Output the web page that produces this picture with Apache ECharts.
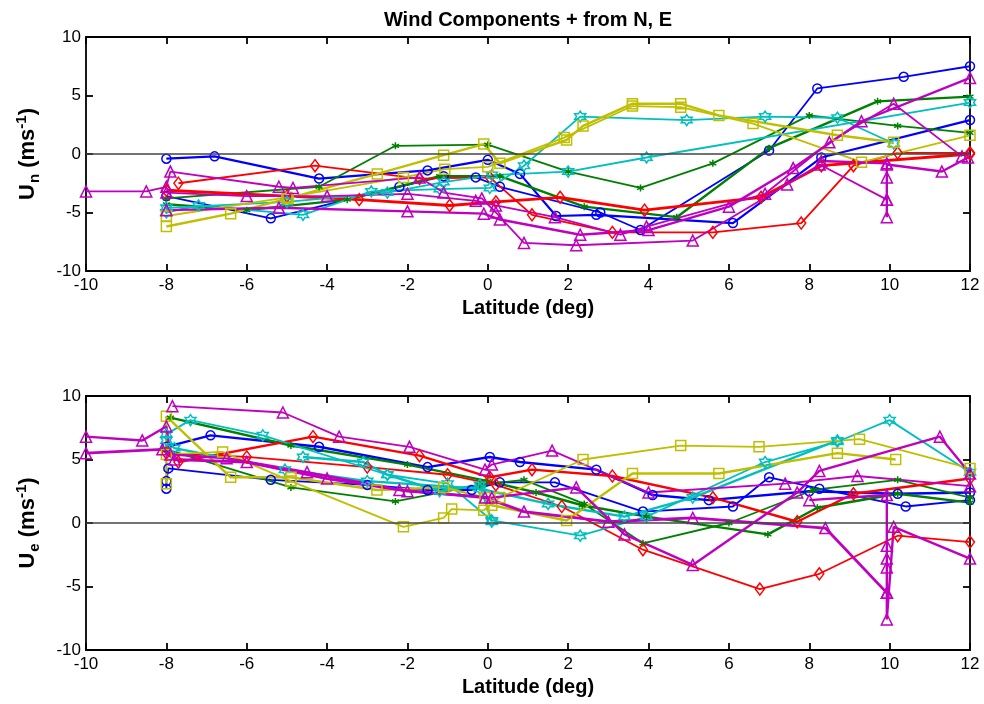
<!DOCTYPE html>
<html><head><meta charset="utf-8">
<script src="https://cdn.jsdelivr.net/npm/echarts@6/dist/echarts.min.js"></script>
<style>html,body{margin:0;padding:0;background:#fff}#c{width:984px;height:704px}</style>
</head><body><div id="c"></div>
<script>
// ---- Data: [latitude, value] pairs ----
const xTicks = [-10,-8,-6,-4,-2,0,2,4,6,8,10,12];
const yTicks = [-10,-5,0,5,10];

// Top panel: U_n
const unBlue1 = [[-8,-0.4],[-6.8,-0.2],[-4.2,-2.1],[-1.5,-1.4],[0,-0.5],[0.8,-1.7],[1.7,-5.3],[2.7,-5.2],[6.1,-5.9],[8.3,-0.3],[12,2.9]];
const unBlue2 = [[-8,-3.6],[-5.4,-5.5],[-2.2,-2.8],[-1.1,-1.9],[-0.3,-2.0],[0.3,-2.8],[2.8,-5.0],[3.8,-6.5],[7.0,0.3],[8.2,5.6],[10.35,6.6],[12,7.5]];
const unGreen1 = [[-8,-3.8],[-4.2,-2.8],[-2.3,0.7],[0,0.8],[2.0,-1.5],[3.8,-2.9],[5.6,-0.8],[8.0,3.3],[10.2,2.4],[12,1.8]];
const unGreen2 = [[-8,-4.3],[-6,-4.8],[-3.5,-3.9],[-1.2,-1.9],[0.3,-1.9],[2.4,-4.5],[4.7,-5.4],[7.0,0.5],[9.7,4.5],[12,4.9]];
const unRed1 = [[-7.7,-2.5],[-4.3,-1.0],[-1.7,-2.1],[0.05,-2.0],[1.1,-5.2],[3.1,-6.7],[5.6,-6.7],[7.8,-5.9],[9.1,-1.0],[10.2,0.1],[12,0.1]];
const unRed2 = [[-8,-3.1],[-5,-3.6],[-3.2,-3.9],[-0.95,-4.4],[0.2,-4.1],[1.8,-3.7],[3.9,-4.8],[6.8,-3.7],[8.3,-1.0],[12,0.0]];
const unCyan1 = [[-8,-5.0],[-7.2,-4.4],[-4.6,-5.2],[-2.9,-3.2],[-1.2,-3.0],[0.05,-2.9],[0.9,-1.0],[2.3,3.2],[4.95,2.9],[6.9,3.2],[8.7,3.1],[10.1,0.9]];
const unCyan2 = [[-8,-4.6],[-5.0,-4.1],[-2.5,-3.3],[-1.1,-2.4],[0.1,-1.8],[2.0,-1.5],[3.95,-0.3],[12,4.4]];
const unYellow1 = [[-8,-6.2],[-6.4,-5.1],[-4.97,-3.8],[-2.75,-1.7],[-1.1,-0.1],[-0.1,0.85],[0.3,-0.8],[1.96,1.2],[2.37,2.4],[3.6,4.3],[4.8,4.3],[5.75,3.3],[8.7,1.6],[10.1,1.0]];
const unYellow2 = [[-8,-5.3],[-5.0,-3.7],[-2.1,-2.0],[-1.07,-1.3],[0,-1.1],[1.9,1.4],[3.6,4.1],[4.8,4.0],[6.6,2.6],[9.3,-0.7],[12,1.6]];
const unMag1 = [[-10,-3.2],[-8.5,-3.2],[-8,-2.8],[-7.9,-1.5],[-5.2,-2.8],[-4.85,-2.9],[-1.7,-2.0],[-1.1,-3.3],[-0.15,-3.8],[0.2,-5.0],[0.9,-7.6],[2.2,-7.8],[5.1,-7.4],[7.45,-2.6],[8.26,-0.9],[9.93,-3.9]];
const unMag2 = [[-8,-3.3],[-6,-3.6],[-4,-3.6],[-2,-3.4],[-0.3,-4.0],[0.2,-4.4],[1.67,-5.4],[3.3,-6.9],[3.95,-6.2],[6.9,-3.4],[8.5,1.0],[10.1,4.3],[11.8,-0.2]];
const unMag3 = [[-8,-4.8],[-5.2,-4.6],[-2.0,-4.9],[-0.1,-5.1],[0.3,-5.6],[2.3,-6.9],[4.0,-6.5],[6.0,-4.5],[7.6,-1.2],[9.3,2.8],[12,6.5]];
const unMag4 = [[8.3,-0.6],[9.93,-0.8],[9.93,-2.0],[9.93,-3.9],[9.93,-5.4],[9.93,-0.9],[11.3,-1.5],[11.95,-0.3]];

// Bottom panel: U_e
const ueBlue1 = [[-8,2.7],[-8,3.3],[-7.95,4.3],[-5.4,3.4],[-3.0,3.0],[-1.5,2.6],[-0.4,2.6],[0.3,3.2],[1.67,3.2],[3.86,0.9],[6.1,1.3],[7.0,3.6],[8.25,2.7],[10.4,1.3],[12,1.8]];
const ueBlue2 = [[-8,6.0],[-6.9,6.9],[-4.2,6.0],[-1.5,4.4],[0.05,5.2],[0.8,4.8],[2.7,4.2],[4.1,2.2],[5.5,1.8],[8.0,2.5],[10.2,2.3],[12,2.4]];
const ueGreen1 = [[-7.9,8.3],[-4.9,6.1],[-2.0,4.6],[0.0,3.3],[1.2,2.4],[2.35,1.4],[3.95,0.5],[6.97,-0.9],[8.2,1.2],[10.2,2.3],[12,1.6]];
const ueGreen2 = [[-8,5.8],[-4.9,2.8],[-2.3,1.7],[-0.2,3.0],[0.9,3.4],[2.4,1.5],[3.86,-1.6],[6.0,0.0],[8.1,2.6],[10.2,3.4],[12,2.0]];
const ueRed1 = [[-7.7,4.8],[-4.35,6.8],[-1.7,5.3],[0.05,3.6],[1.1,4.2],[3.1,3.7],[5.6,2.0],[7.7,0.1],[9.1,2.3],[12,3.5]];
const ueRed2 = [[-8,5.5],[-6,5.2],[-3,4.4],[-1,3.8],[0.2,3.0],[1.84,1.3],[3.86,-2.1],[6.77,-5.2],[8.25,-4.0],[10.2,-1.0],[12,-1.5]];
const ueCyan1 = [[-8,7.0],[-7.4,8.1],[-5.6,6.9],[-2.5,3.8],[-1.0,3.1],[0.1,0.2],[2.3,-1.0],[3.95,0.5],[6.9,4.8],[8.7,6.4],[10.0,8.1],[12,4.0]];
const ueCyan2 = [[-8,6.5],[-7.8,5.9],[-5.05,4.2],[-3,3.3],[-0.2,2.7],[1.5,1.5],[3.4,0.5],[5.1,2.0],[8.7,6.5]];
const ueCyan3 = [[-4.6,5.2],[-3.1,4.8],[-2.5,3.8],[-1.2,2.5],[-0.2,3.0],[0.1,0.1]];
const ueYellow1 = [[-8,3.1],[-8,8.4],[-6.4,3.6],[-4.9,3.6],[-2.76,2.6],[-1.1,2.8],[-0.07,2.0],[0.1,1.4],[1.96,0.2],[3.6,3.9],[5.75,3.9],[8.7,5.5],[10.15,5.0]];
const ueYellow2 = [[-8,5.4],[-6.6,5.6],[-4.9,3.3],[-2.1,-0.3],[-1.1,0.4],[-0.9,1.1],[-0.1,1.0],[0.3,2.0],[2.37,5.0],[4.8,6.1],[6.75,6.0],[9.25,6.6],[12,4.3]];
const ueMag1 = [[-7.85,9.2],[-5.1,8.7],[-3.7,6.8],[-1.95,6.0],[-0.07,4.2],[0.1,4.6],[1.6,5.7],[4.0,2.4],[7.4,3.1],[9.2,3.7],[12,2.9]];
const ueMag2 = [[-10,6.8],[-8.6,6.5],[-8,7.6],[-7.9,5.4],[-6.5,5.1],[-4.5,4.0],[-2.0,2.5],[0.1,2.0],[2.2,2.8],[3.4,-0.9],[5.1,-3.3],[7.7,2.4],[8.25,4.1],[11.25,6.8],[12,3.9]];
const ueMag3 = [[-10,5.5],[-8.1,5.8],[-7.8,5.0],[-6,4.8],[-4,3.5],[-2.2,2.6],[-0.07,2.0],[0.9,0.9],[3.0,0.1],[5.1,0.4],[8.4,-0.4],[9.93,-5.5]];
const ueMag4 = [[8.0,1.8],[9.93,2.2],[9.93,-1.8],[9.93,-2.8],[9.93,-3.5],[9.93,-5.5],[9.93,-7.6],[10.1,-0.3],[12,-2.8]];

// ---- Styles ----
const C = {blue:'#0000ff', green:'#008000', red:'#ff0000', cyan:'#00bfbf', yellow:'#bfbf00', mag:'#bf00bf'};
function hexagram(){
  let p=[];
  for(let i=0;i<12;i++){const a=-Math.PI/2+i*Math.PI/6;const r=(i%2===0)?10:5.8;p.push((r*Math.cos(a)).toFixed(2)+','+(r*Math.sin(a)).toFixed(2));}
  return 'path://M'+p.join('L')+'Z';
}
const MK = {
  blue:{symbol:'circle',size:9},
  green:{symbol:'path://M0,-5L0,5M-4.33,-2.5L4.33,2.5M-4.33,2.5L4.33,-2.5',size:7},
  red:{symbol:'diamond',size:[9,12]},
  cyan:{symbol:hexagram(),size:11},
  yellow:{symbol:'rect',size:10},
  mag:{symbol:'triangle',size:11}
};
const topSet = [[unBlue1,'blue',2.2],[unBlue2,'blue',1.8],[unGreen1,'green',1.8],[unGreen2,'green',2.4],[unRed1,'red',1.8],[unRed2,'red',2.8],[unCyan1,'cyan',1.8],[unCyan2,'cyan',1.8],[unYellow1,'yellow',2.4],[unYellow2,'yellow',1.8],[unMag1,'mag',1.8],[unMag2,'mag',1.8],[unMag3,'mag',2.4],[unMag4,'mag',2.4]];
const botSet = [[ueBlue1,'blue',1.8],[ueBlue2,'blue',2.4],[ueGreen1,'green',2.4],[ueGreen2,'green',1.8],[ueRed1,'red',2.4],[ueRed2,'red',1.8],[ueCyan1,'cyan',1.8],[ueCyan2,'cyan',2.4],[ueCyan3,'cyan',2.4],[ueYellow1,'yellow',2.4],[ueYellow2,'yellow',1.8],[ueMag1,'mag',1.8],[ueMag2,'mag',2.4],[ueMag3,'mag',2.8],[ueMag4,'mag',2.4]];

function mkSeries(set, axisIdx){
  return set.map(([d,c,w])=>({
    type:'line', xAxisIndex:axisIdx, yAxisIndex:axisIdx, data:d,
    symbol:MK[c].symbol, symbolSize:MK[c].size,
    lineStyle:{color:C[c],width:w},
    itemStyle:{color:'rgba(0,0,0,0)',borderColor:C[c],borderWidth:1.5},
    emphasis:{disabled:true}, silent:true, z:3
  }));
}
const FONT = 'Liberation Sans, Arial, sans-serif';
const zeroLine = (idx)=>({type:'line',xAxisIndex:idx,yAxisIndex:idx,data:[],silent:true,
  markLine:{silent:true,symbol:'none',label:{show:false},lineStyle:{color:'#444',width:1.5,type:'solid'},data:[{yAxis:0}]},z:2});

const rich = {n:{fontSize:22,fontWeight:'bold',fontFamily:FONT,color:'#000'},
  sub:{fontSize:15,fontWeight:'bold',fontFamily:FONT,color:'#000',verticalAlign:'bottom',padding:[13,0,0,1]},
  sup:{fontSize:15,fontWeight:'bold',fontFamily:FONT,color:'#000',verticalAlign:'top',padding:[0,0,13,0]}};

function xAx(grid, pos, showLabel, name){
  return {type:'value', gridIndex:grid, position:pos, min:-10, max:12, interval:2,
    name: name||'', nameLocation:'middle', nameGap:27,
    nameTextStyle:{fontSize:20,fontWeight:'bold',fontFamily:FONT,color:'#000'},
    axisLine:{show:true,onZero:false,lineStyle:{color:'#000',width:1.8}},
    axisTick:{show:true,inside:true,length:7,lineStyle:{color:'#000',width:1.8}},
    axisLabel:{show:showLabel,fontSize:17,fontFamily:FONT,color:'#000',margin:6},
    splitLine:{show:false}};
}
function yAx(grid, pos, showLabel, name){
  return {type:'value', gridIndex:grid, position:pos, min:-10, max:10, interval:5,
    name: name||'', nameLocation:'middle', nameGap:44, nameRotate:90,
    nameTextStyle:{rich:rich},
    axisLine:{show:true,onZero:false,lineStyle:{color:'#000',width:1.8}},
    axisTick:{show:true,inside:true,length:7,lineStyle:{color:'#000',width:1.8}},
    axisLabel:{show:showLabel,fontSize:17,fontFamily:FONT,color:'#000',margin:5},
    splitLine:{show:false}};
}

const chart = echarts.init(document.getElementById('c'),null,{renderer:'canvas'});
chart.setOption({
  animation:false,
  backgroundColor:'#fff',
  title:{text:'Wind Components + from N, E',left:523,top:5,textAlign:'center',
    textStyle:{fontSize:20,fontWeight:'bold',fontFamily:FONT,color:'#000'}},
  grid:[{left:86,right:14,top:37,height:234},{left:86,right:14,top:396,height:254}],
  xAxis:[xAx(0,'bottom',true,'Latitude (deg)'),xAx(1,'bottom',true,'Latitude (deg)'),xAx(0,'top',false),xAx(1,'top',false)],
  yAxis:[yAx(0,'left',true,'{n|U}{sub|n}{n| (ms}{sup|-1}{n|)}'),yAx(1,'left',true,'{n|U}{sub|e}{n| (ms}{sup|-1}{n|)}'),yAx(0,'right',false),yAx(1,'right',false)],
  series:[zeroLine(0),zeroLine(1)].concat(mkSeries(topSet,0),mkSeries(botSet,1))
});
</script></body></html>
